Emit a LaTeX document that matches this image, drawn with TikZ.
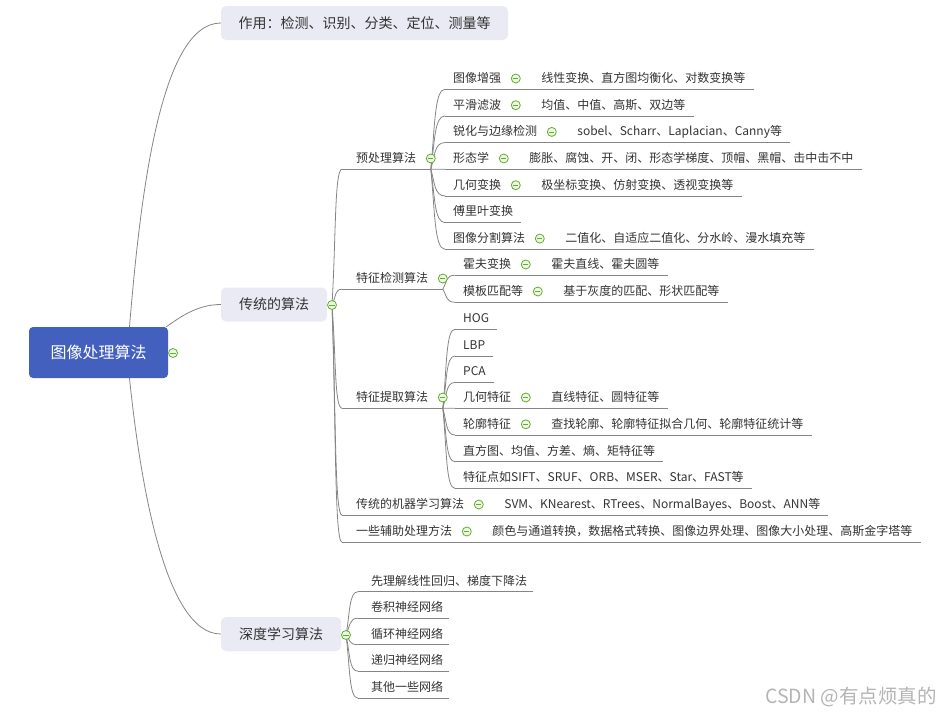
\documentclass[tikz,border=0pt]{standalone}
\usepackage{fontspec}
\setmainfont{Noto Sans CJK SC}
\usepackage{xcolor}
\usetikzlibrary{positioning,calc}

\definecolor{rootblue}{HTML}{4360BE}
\definecolor{topicgray}{HTML}{E9EAF3}
\definecolor{txt}{HTML}{333333}
\definecolor{linegray}{HTML}{858585}
\definecolor{foldgreen}{HTML}{62AE2C}
\definecolor{foldfill}{HTML}{EEF7E6}
\definecolor{markgray}{HTML}{B4B4B4}

\pgfdeclarelayer{bg}
\pgfsetlayers{bg,main}

% curved branch: leaves the joint upwards/downwards, lands flat on the underline
\newcommand{\branch}[2]{\draw[link] (#1) .. controls ($(#1)!0.5!(#1 |- #2) + (4pt,0)$) and ($(#1 |- #2)!0.25!(#2)$) .. (#2);}

\begin{document}
\begin{tikzpicture}[x=1pt, y=1pt,
  link/.style={draw=linegray, line width=0.8pt},
  rootbox/.style={rectangle, rounded corners=4pt, fill=rootblue, text=white, font=\fontsize{16}{18}\selectfont, minimum width=139pt, minimum height=51pt, inner sep=0pt},
  topic/.style={rectangle, rounded corners=5pt, fill=topicgray, text=txt, font=\fontsize{14}{16}\selectfont, minimum height=34pt, inner sep=0pt},
  leaf/.style={anchor=west, text=txt, font=\fontsize{12}{14}\selectfont, inner sep=0pt, text height=10pt, text depth=2pt, minimum height=21pt},
  fold/.style={circle, draw=foldgreen, fill=foldfill, line width=0.8pt, minimum size=9pt, inner sep=0pt,
    path picture={\draw[foldgreen, line width=0.8pt] ([xshift=-2.6pt]path picture bounding box.center) -- ([xshift=2.6pt]path picture bounding box.center);}}]
\useasboundingbox (0,0) rectangle (950,-718);
% root topic
\node[rootbox] (root) at (98.5,-352.5) {图像处理算法};
\node[fold] (rootf) at (173,-353) {};
% main topics
\node[topic, minimum width=287pt] (use) at (364.5,-23) {作用：检测、识别、分类、定位、测量等};
\node[topic, minimum width=106pt] (trad) at (274,-304.5) {传统的算法};
\node[fold] (tradf) at (332,-305) {};
\node[topic, minimum width=120pt] (deep) at (281,-634) {深度学习算法};
\node[fold] (deepf) at (346,-635) {};
% preprocessing
\node[leaf] (pre) at (356,-158.5) {预处理算法};
\node[fold, right=9.5pt of pre] (pref) {};
\node[leaf] (pre1) at (453,-78.5) {图像增强};
\node[fold, right=9.5pt of pre1] (pre1f) {};
\node[leaf, right=20.5pt of pre1f] (pre1d) {线性变换、直方图均衡化、对数变换等};
\node[leaf] (pre2) at (453,-105.2) {平滑滤波};
\node[fold, right=9.5pt of pre2] (pre2f) {};
\node[leaf, right=20.5pt of pre2f] (pre2d) {均值、中值、高斯、双边等};
\node[leaf] (pre3) at (453,-131.9) {锐化与边缘检测};
\node[fold, right=9.5pt of pre3] (pre3f) {};
\node[leaf, right=20.5pt of pre3f] (pre3d) {sobel、Scharr、Laplacian、Canny等};
\node[leaf] (pre4) at (453,-158.5) {形态学};
\node[fold, right=9.5pt of pre4] (pre4f) {};
\node[leaf, right=20.5pt of pre4f] (pre4d) {膨胀、腐蚀、开、闭、形态学梯度、顶帽、黑帽、击中击不中};
\node[leaf] (pre5) at (453,-185.2) {几何变换};
\node[fold, right=9.5pt of pre5] (pre5f) {};
\node[leaf, right=20.5pt of pre5f] (pre5d) {极坐标变换、仿射变换、透视变换等};
\node[leaf] (pre6) at (453,-211.9) {傅里叶变换};
\node[leaf] (pre7) at (453,-238.6) {图像分割算法};
\node[fold, right=9.5pt of pre7] (pre7f) {};
\node[leaf, right=20.5pt of pre7f] (pre7d) {二值化、自适应二值化、分水岭、漫水填充等};
% feature detection
\node[leaf] (det) at (356,-278.5) {特征检测算法};
\node[fold, right=9.5pt of det] (detf) {};
\node[leaf] (det1) at (463,-264.5) {霍夫变换};
\node[fold, right=9.5pt of det1] (det1f) {};
\node[leaf, right=20.5pt of det1f] (det1d) {霍夫直线、霍夫圆等};
\node[leaf] (det2) at (463,-291.5) {模板匹配等};
\node[fold, right=9.5pt of det2] (det2f) {};
\node[leaf, right=20.5pt of det2f] (det2d) {基于灰度的匹配、形状匹配等};
% feature extraction
\node[leaf] (ext) at (356,-397.5) {特征提取算法};
\node[fold, right=9.5pt of ext] (extf) {};
\node[leaf] (ext1) at (463,-318.5) {HOG};
\node[leaf] (ext2) at (463,-345.2) {LBP};
\node[leaf] (ext3) at (463,-371.8) {PCA};
\node[leaf] (ext4) at (463,-397.5) {几何特征};
\node[fold, right=9.5pt of ext4] (ext4f) {};
\node[leaf, right=20.5pt of ext4f] (ext4d) {直线特征、圆特征等};
\node[leaf] (ext5) at (463,-424.3) {轮廓特征};
\node[fold, right=9.5pt of ext5] (ext5f) {};
\node[leaf, right=20.5pt of ext5f] (ext5d) {查找轮廓、轮廓特征拟合几何、轮廓特征统计等};
\node[leaf] (ext6) at (463,-451) {直方图、均值、方差、熵、矩特征等};
\node[leaf] (ext7) at (463,-477.7) {特征点如SIFT、SRUF、ORB、MSER、Star、FAST等};
% machine learning and helpers
\node[leaf] (ml) at (356,-504.5) {传统的机器学习算法};
\node[fold, right=9.5pt of ml] (mlf) {};
\node[leaf, right=20.5pt of mlf] (mld) {SVM、KNearest、RTrees、NormalBayes、Boost、ANN等};
\node[leaf] (aux) at (356,-531.5) {一些辅助处理方法};
\node[fold, right=9.5pt of aux] (auxf) {};
\node[leaf, right=20.5pt of auxf] (auxd) {颜色与通道转换，数据格式转换、图像边界处理、图像大小处理、高斯金字塔等};
% deep learning
\node[leaf] (dl1) at (371,-581) {先理解线性回归、梯度下降法};
\node[leaf] (dl2) at (371,-607.5) {卷积神经网络};
\node[leaf] (dl3) at (371,-634) {循环神经网络};
\node[leaf] (dl4) at (371,-660.5) {递归神经网络};
\node[leaf] (dl5) at (371,-687.5) {其他一些网络};
% watermark
\node[anchor=west, text=markgray, font=\fontsize{19.5}{22}\selectfont, inner sep=0pt] (mark) at (765,-697) {CSDN @有点烦真的};
% joints and underline starts
\coordinate (root-a) at ([xshift=31pt]root.north);
\coordinate (root-b) at ([xshift=-2pt]root.north east);
\coordinate (root-c) at ([xshift=31pt]root.south);
\foreach \n in {pre,det,ext,ml,aux} {\coordinate (\n-s) at ([xshift=-14pt]\n.south west);}
\foreach \n in {pre,det,ext} {\coordinate (\n-j) at (\n f |- \n.south);}
\foreach \k in {1,...,7} {\coordinate (pre\k-s) at ([xshift=-8pt]pre\k.south west);}
\foreach \k in {1,2} {\coordinate (det\k-s) at ([xshift=-8pt]det\k.south west);}
\foreach \k in {1,...,7} {\coordinate (ext\k-s) at ([xshift=-8pt]ext\k.south west);}
\foreach \k in {1,...,5} {\coordinate (dl\k-s) at ([xshift=-13pt]dl\k.south west);}

\begin{pgfonlayer}{bg}
% root to main topics
\draw[link] (root-a) .. controls ([shift={(10.5pt,127pt)}]root-a) and ([xshift=-61pt]use.west) .. (use.west);
\draw[link] (root-b) .. controls ([shift={(12pt,8pt)}]root-b) and ([xshift=-25pt]trad.west) .. (trad.west);
\draw[link] (root-c) .. controls ([shift={(10.5pt,-102pt)}]root-c) and ([xshift=-56pt]deep.west) .. (deep.west);
% traditional branch
\foreach \n in {pre,det,ext,ml,aux} {\branch{tradf.center}{\n-s}}
\foreach \n in {pre,det,ext} {\draw[link] (\n-s) -- (\n-j);}
\draw[link] (ml-s) -- ([xshift=8pt]mld.south east);
\draw[link] (aux-s) -- ([xshift=8pt]auxd.south east);
% preprocessing children
\foreach \k in {1,...,7} {\branch{pre-j}{pre\k-s}}
\foreach \k in {1,2,3,4,5,7} {\draw[link] (pre\k-s) -- ([xshift=8pt]pre\k d.south east);}
\draw[link] (pre6-s) -- ([xshift=8pt]pre6.south east);
% detection children
\foreach \k in {1,2} {\branch{det-j}{det\k-s} \draw[link] (det\k-s) -- ([xshift=8pt]det\k d.south east);}
% extraction children
\foreach \k in {1,...,7} {\branch{ext-j}{ext\k-s}}
\foreach \k in {1,2,3,6,7} {\draw[link] (ext\k-s) -- ([xshift=8pt]ext\k.south east);}
\foreach \k in {4,5} {\draw[link] (ext\k-s) -- ([xshift=8pt]ext\k d.south east);}
% deep learning children
\foreach \k in {1,...,5} {\branch{deepf.center}{dl\k-s} \draw[link] (dl\k-s) -- ([xshift=6pt]dl\k.south east);}
\end{pgfonlayer}
\end{tikzpicture}
\end{document}
